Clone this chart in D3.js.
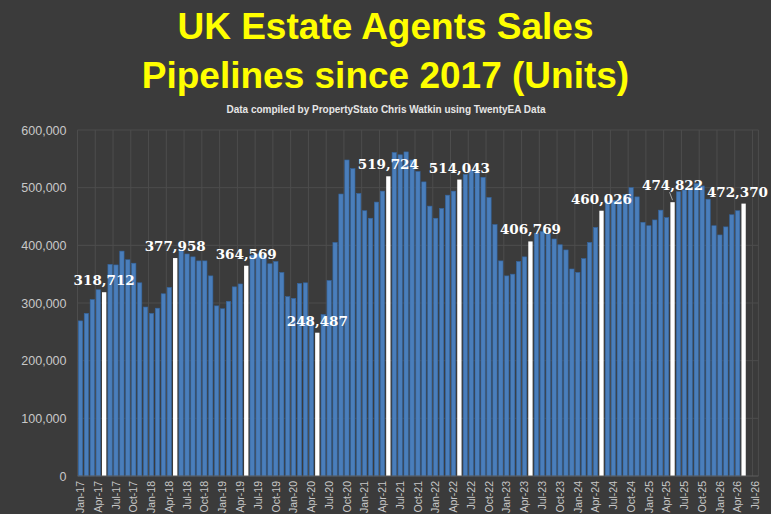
<!DOCTYPE html>
<html>
<head>
<meta charset="utf-8">
<script src="https://cdn.jsdelivr.net/npm/d3@7"></script>
<style>
  body { margin: 0; background: #3b3b3b; }
  svg { display: block; }
</style>
</head>
<body>
<svg id="chart" width="771" height="514"></svg>
<script>
// month categories on the axis, Jan-17 .. Jul-26
const monthNames = ["Jan","Feb","Mar","Apr","May","Jun","Jul","Aug","Sep","Oct","Nov","Dec"];
const yearLabels = ["17","18","19","20","21","22","23","24","25","26"];
const months = yearLabels.flatMap(y => monthNames.map(m => m + "-" + y)).slice(0, 115);

// sales pipeline (units), Jan-17 .. May-26
const pipeline = [
  269000, 282000, 306000, 323000, 318712, 367000, 366000, 390000, 375000, 369000, 335000, 293000, // 2017
  282000, 291000, 316000, 327000, 377958, 393000, 385000, 380000, 373000, 373000, 347000, 295000, // 2018
  290000, 303000, 328000, 333000, 364569, 383000, 385000, 383000, 368000, 372000, 353000, 311000, // 2019
  308000, 334000, 335000, 275000, 248487, 280000, 339000, 405000, 489000, 548000, 533000, 490000, // 2020
  460000, 447000, 475000, 494000, 519724, 561000, 557000, 562000, 548000, 528000, 510000, 468000, // 2021
  447000, 464000, 487000, 494000, 514043, 523000, 531000, 529000, 518000, 483000, 436000, 373000, // 2022
  347000, 350000, 372000, 380000, 406769, 421000, 424000, 420000, 411000, 401000, 392000, 359000, // 2023
  353000, 377000, 405000, 431000, 460026, 476000, 478000, 480000, 488000, 500000, 484000, 440000, // 2024
  434000, 444000, 461000, 448000, 474822, 493000, 496000, 499000, 507000, 503000, 480000, 434000, // 2025
  418000, 432000, 453000, 460000, 472370                                                          // 2026
];

// the months picked out in white with a value label
const highlighted = ["May-17","May-18","May-19","May-20","May-21","May-22","May-23","May-24","May-25","May-26"];

const yTicks = [0, 100000, 200000, 300000, 400000, 500000, 600000];

const data = pipeline.map((v, i) => ({month: months[i], value: v}));

const svg = d3.select("#chart");
const W = 771;

const margin = {left: 77.5, right: 758.4, top: 130, bottom: 476};

const x = d3.scaleBand()
  .domain(months)
  .range([margin.left, margin.right])
  .paddingInner(0.27)
  .paddingOuter(0.135);

const y = d3.scaleLinear()
  .domain([0, 600000])
  .range([margin.bottom, margin.top]);

// titles
svg.append("text")
  .attr("x", 385.5).attr("y", 39)
  .attr("text-anchor", "middle")
  .attr("fill", "#ffff00")
  .style("font", "bold 37px 'Liberation Sans', Arial, sans-serif")
  .text("UK Estate Agents Sales");

svg.append("text")
  .attr("x", 385.5).attr("y", 88)
  .attr("text-anchor", "middle")
  .attr("fill", "#ffff00")
  .style("font", "bold 37px 'Liberation Sans', Arial, sans-serif")
  .text("Pipelines since 2017 (Units)");

svg.append("text")
  .attr("x", 386).attr("y", 113)
  .attr("text-anchor", "middle")
  .attr("fill", "#e6e6e6")
  .style("font", "bold 10px 'Liberation Sans', Arial, sans-serif")
  .text("Data compiled by PropertyStato Chris Watkin using TwentyEA Data");

// gridlines
const half = x.step() * x.paddingInner() / 2;
const vLines = months.filter((d, i) => i % 3 === 0).map(m => x(m) - half);
vLines.push(margin.right);

svg.append("g").selectAll("line")
  .data(vLines)
  .join("line")
  .attr("x1", d => d).attr("x2", d => d)
  .attr("y1", margin.top).attr("y2", margin.bottom)
  .attr("stroke", "#4d4d4d")
  .attr("stroke-width", 1);

svg.append("g").selectAll("line")
  .data(yTicks.slice(1))
  .join("line")
  .attr("x1", margin.left).attr("x2", margin.right)
  .attr("y1", d => y(d)).attr("y2", d => y(d))
  .attr("stroke", "#4d4d4d")
  .attr("stroke-width", 1);

// y axis
const yAxis = svg.append("g")
  .attr("transform", `translate(${margin.left},0)`)
  .call(d3.axisLeft(y).tickValues(yTicks).tickFormat(d3.format(",")).tickSize(0).tickPadding(11));
yAxis.select(".domain").remove();
yAxis.selectAll("text")
  .attr("fill", "#c8c8c8")
  .style("font", "12.5px 'Liberation Sans', Arial, sans-serif");

// bars
svg.append("g").selectAll("rect")
  .data(data)
  .join("rect")
  .attr("x", d => x(d.month))
  .attr("y", d => y(d.value))
  .attr("width", x.bandwidth())
  .attr("height", d => y(0) - y(d.value))
  .attr("fill", d => highlighted.includes(d.month) ? "#ffffff" : "#4a7ebb")
  .attr("stroke", d => highlighted.includes(d.month) ? "none" : "#33649e")
  .attr("stroke-width", 0.6);

// baseline
svg.append("line")
  .attr("x1", margin.left).attr("x2", margin.right)
  .attr("y1", y(0)).attr("y2", y(0))
  .attr("stroke", "#5e5e5e");

// x axis, every third month
const xAxis = svg.append("g")
  .attr("transform", `translate(0,${margin.bottom})`)
  .call(d3.axisBottom(x).tickValues(months.filter((d, i) => i % 3 === 0)).tickSize(0));
xAxis.select(".domain").remove();
xAxis.selectAll("text")
  .attr("transform", "rotate(-90)")
  .attr("text-anchor", "end")
  .attr("x", -5)
  .attr("y", 0)
  .attr("dy", "0.35em")
  .attr("fill", "#c8c8c8")
  .style("font", "10.5px 'Liberation Sans', Arial, sans-serif");

// value labels above the white bars
const labelNudge = {"May-25": -5};
const fmt = d3.format(",");
const labels = svg.append("g").selectAll("text")
  .data(data.filter(d => highlighted.includes(d.month)))
  .join("text")
  .attr("x", d => x(d.month) + x.bandwidth() / 2)
  .attr("y", d => y(d.value) - 7 + (labelNudge[d.month] || 0))
  .attr("text-anchor", "middle")
  .attr("fill", "#ffffff")
  .style("font", "bold 13.5px 'DejaVu Serif', serif")
  .text(d => fmt(d.value));

// keep labels inside the picture
labels.each(function() {
  const b = this.getBBox();
  if (b.x + b.width > W - 3) {
    d3.select(this).attr("x", +d3.select(this).attr("x") - (b.x + b.width - (W - 3)));
  }
});

// small leader line for the nudged label
svg.append("g").selectAll("line")
  .data(data.filter(d => labelNudge[d.month]))
  .join("line")
  .attr("x1", d => x(d.month) + x.bandwidth() / 2 - 3)
  .attr("x2", d => x(d.month) + x.bandwidth() / 2)
  .attr("y1", d => y(d.value) - 10)
  .attr("y2", d => y(d.value) - 2)
  .attr("stroke", "#bfbfbf")
  .attr("stroke-width", 0.8);
</script>
</body>
</html>
